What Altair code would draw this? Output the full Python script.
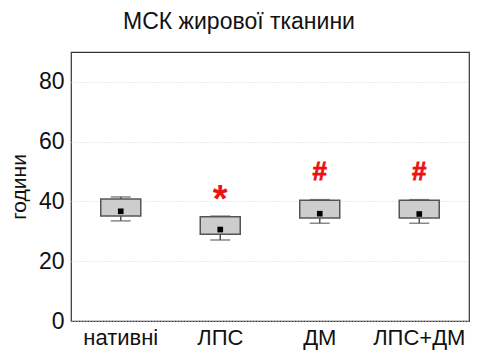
import altair as alt
import pandas as pd

cats = ["нативні", "ЛПС", "ДМ", "ЛПС+ДМ"]
q1 = [35.1, 29.0, 34.5, 34.5]
q3 = [40.8, 34.9, 40.4, 40.4]
whisk_lo = [33.5, 27.1, 32.7, 32.7]
whisk_hi = [41.5, 35.1, 40.6, 40.6]
mean = [36.7, 30.6, 35.9, 35.8]

star_cats = ["ЛПС"]
star_y = [42.8]
hash_cats = ["ДМ", "ЛПС+ДМ"]
hash_y = [49.9, 49.9]

FONT = "Liberation Sans"

df = pd.DataFrame({"cat": cats, "q1": q1, "q3": q3, "lo": whisk_lo,
                   "hi": whisk_hi, "mean": mean})
df_star = pd.DataFrame({"cat": star_cats, "y": star_y, "t": ["*"] * len(star_cats)})
df_hash = pd.DataFrame({"cat": hash_cats, "y": hash_y, "t": ["#"] * len(hash_cats)})

xenc = alt.X("cat:N", sort=cats, title=None,
             scale=alt.Scale(paddingInner=0, paddingOuter=0),
             axis=alt.Axis(labelAngle=0, labelFontSize=22, labelFont=FONT,
                           labelColor="#111", ticks=False, domain=False,
                           grid=False, labelPadding=6))
yscale = alt.Scale(domain=[0, 90], nice=False)
yaxis = alt.Axis(values=[0, 20, 40, 60, 80], labelFontSize=23, labelFont=FONT,
                 labelColor="#111", ticks=False, domain=False,
                 grid=True, gridColor="#d4d4d4", gridDash=[1, 2],
                 labelPadding=7, title="години", titleFont=FONT,
                 titleFontSize=21, titleFontWeight="normal", titleColor="#111",
                 titlePadding=9)

base = alt.Chart(df).encode(x=xenc)

lower = base.mark_rule(color="#555", strokeWidth=1.5).encode(
    y=alt.Y("lo:Q", scale=yscale, axis=yaxis), y2="q1:Q")
upper = base.mark_rule(color="#555", strokeWidth=1.5).encode(
    y=alt.Y("q3:Q"), y2="hi:Q")
cap_lo = base.mark_tick(color="#555", thickness=1.5, size=20, orient="horizontal").encode(
    y=alt.Y("lo:Q"))
cap_hi = base.mark_tick(color="#555", thickness=1.5, size=20, orient="horizontal").encode(
    y=alt.Y("hi:Q"))
box = base.mark_bar(size=40, fill="#cdcdcd", stroke="#555", strokeWidth=1.5).encode(
    y=alt.Y("q1:Q"), y2="q3:Q")
pts = base.mark_point(shape="square", filled=True, color="#000", size=32, opacity=1).encode(
    y=alt.Y("mean:Q"))

star = alt.Chart(df_star).mark_text(color="#ee1111", fontSize=38, fontWeight="bold",
                                    font=FONT, baseline="middle", dy=8).encode(
    x=alt.X("cat:N", sort=cats), y=alt.Y("y:Q"), text="t:N")
hsh = alt.Chart(df_hash).mark_text(color="#ee1111", fontSize=26, fontWeight="bold",
                                   font=FONT, baseline="middle", stroke="#ee1111",
                                   strokeWidth=0.8).encode(
    x=alt.X("cat:N", sort=cats), y=alt.Y("y:Q"), text="t:N")

chart = alt.layer(lower, upper, cap_lo, cap_hi, box, pts, star, hsh).properties(
    width=398, height=269,
    autosize=alt.AutoSizeParams(type="none"),
    padding={"left": 63, "top": 44, "right": 1, "bottom": 30},
    title=alt.TitleParams("МСК жирової тканини", font=FONT, fontSize=23,
                          fontWeight="normal", color="#111", anchor="middle",
                          dx=-31, offset=18),
).configure(background="white",
            view=alt.ViewConfig(stroke="#333", strokeWidth=1.2))

chart.save("out.html", embed_options={"renderer": "svg", "actions": False})
